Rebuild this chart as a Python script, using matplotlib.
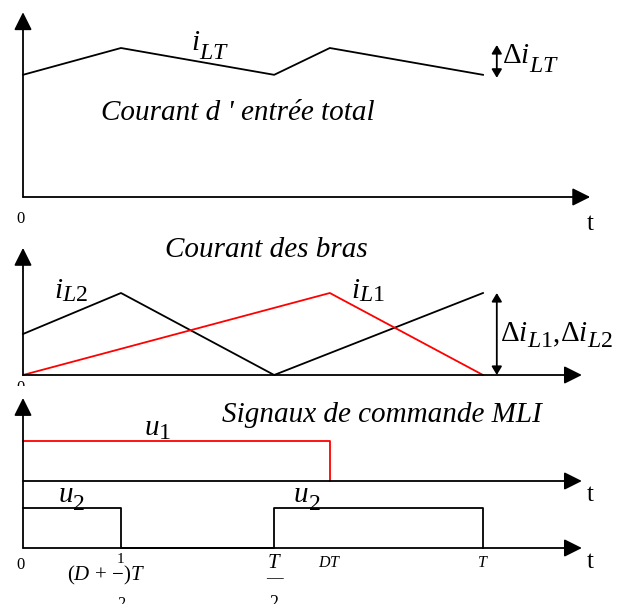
import matplotlib
matplotlib.use("Agg")
import matplotlib.pyplot as plt

plt.rcParams['font.family'] = ['Liberation Serif', 'DejaVu Serif']
plt.rcParams['mathtext.fontset'] = 'custom'
plt.rcParams['mathtext.rm'] = 'Liberation Serif'
plt.rcParams['mathtext.it'] = 'Liberation Serif:italic'
plt.rcParams['mathtext.bf'] = 'Liberation Serif:bold'

# ---- data (time in units of T) ----
t_iLT = [0, 0.213, 0.546, 0.667, 1.0]
i_LT = [0.82, 1.0, 0.82, 1.0, 0.82]

t_iL2 = [0, 0.213, 0.546, 1.0]
i_L2 = [0.5, 1.0, 0.0, 1.0]
t_iL1 = [0, 0.667, 1.0]
i_L1 = [0.0, 1.0, 0.0]

t_u1 = [0, 0.667, 0.667]
u1 = [1, 1, 0]
t_u2 = [0, 0.213, 0.213, 0.546, 0.546, 1.0, 1.0]
u2 = [1, 1, 0, 0, 1, 1, 0]

tick_pos = [0.0, 0.213, 0.546, 0.667, 1.0]

W, H = 629, 604
fig = plt.figure(figsize=(W / 100, H / 100), dpi=100)

X0, XT = 23, 460  # origin px, px per T
xlim = (-X0 / XT, (W - X0) / XT)


def panel(top, bot, base, ppu):
    ax = fig.add_axes([0, 1 - bot / H, 1, (bot - top) / H])
    ax.set_xlim(*xlim)
    ax.set_ylim(-(bot - base) / ppu, (base - top) / ppu)
    ax.axis('off')
    return ax


LW = 1.3
RED = '#ff0000'


def axis_arrow(ax, x0, y0, x1, y1):
    ax.annotate('', xy=(x1, y1), xytext=(x0, y0),
                arrowprops=dict(arrowstyle='-|>,head_length=0.54,head_width=0.27',
                                color='black', lw=LW,
                                mutation_scale=20, shrinkA=0, shrinkB=0),
                annotation_clip=False)


def dbl_arrow(ax, x, y0, y1):
    ax.annotate('', xy=(x, y1), xytext=(x, y0),
                arrowprops=dict(arrowstyle='<|-|>,head_length=0.5,head_width=0.3',
                                color='black', lw=LW,
                                mutation_scale=10, shrinkA=0, shrinkB=0),
                annotation_clip=False)


FS = 21    # titles
MFS = 21   # math labels
SUB = 0.82


def sub_label(ax, x, y, parts, drop, fs=MFS):
    """parts: list of (text, is_subscript); baseline at data y, drop in points."""
    t0 = ax.text(x, y, parts[0][0], fontsize=fs, va='baseline', ha='left')
    prev = t0
    for txt, is_sub in parts[1:]:
        t = ax.annotate(txt, xy=(1, y), xycoords=(prev, 'data'),
                        xytext=(-0.8 if is_sub else 0.0, -drop if is_sub else 0),
                        textcoords='offset points',
                        fontsize=fs * SUB if is_sub else fs,
                        va='baseline', ha='left', annotation_clip=False)
        prev = t
    return t0


# ---- panel 1: total input current ----
ax1 = panel(0, 230, 197, 149)
axis_arrow(ax1, 0, 0, 1.233, 0)
axis_arrow(ax1, 0, 0, 0, 1.24)
ax1.plot(t_iLT, i_LT, color='black', lw=LW)
dbl_arrow(ax1, 1.03, min(i_LT) - 0.02, max(i_LT) + 0.02)
sub_label(ax1, 0.365, 0.985, [(r'$i$', False), (r'$LT$', True)], drop=6.5)
sub_label(ax1, 1.041, 0.9, [(r'$\Delta i$', False), (r'$LT$', True)], drop=6.5)
ax1.text(0.467, 0.52, "Courant d ' entrée total", fontsize=FS, style='italic',
         ha='center', va='baseline')
ax1.text(-0.005, -0.175, '0', fontsize=12, ha='center', va='baseline')
ax1.text(1.233, -0.22, 't', fontsize=18, ha='center', va='baseline')

# ---- panel 2: arm currents ----
ax2 = panel(230, 386, 375, 82)
axis_arrow(ax2, 0, 0, 1.215, 0)
axis_arrow(ax2, 0, 0, 0, 1.55)
ax2.plot(t_iL2, i_L2, color='black', lw=LW)
ax2.plot(t_iL1, i_L1, color=RED, lw=LW)
dbl_arrow(ax2, 1.03, 0, 1.0)
ax2.text(0.528, 1.44, 'Courant des bras', fontsize=FS, style='italic',
         ha='center', va='baseline')
sub_label(ax2, 0.068, 0.94, [(r'$i$', False), (r'$L2$', True)], drop=2.0)
sub_label(ax2, 0.713, 0.94, [(r'$i$', False), (r'$L1$', True)], drop=2.0)
sub_label(ax2, 1.037, 0.41, [(r'$\Delta i$', False), (r'$L1$', True),
                             (',', False), (r'$\Delta i$', False),
                             (r'$L2$', True)], drop=4.0)
ax2.text(-0.005, -0.06, '0', fontsize=12, ha='center', va='top', clip_on=True)

# ---- panel 3: PWM control signals ----
ax3 = panel(386, 604, 548, 40)
U1_OFF = 1.675
axis_arrow(ax3, 0, 0, 1.215, 0)
axis_arrow(ax3, 0, U1_OFF, 1.215, U1_OFF)
axis_arrow(ax3, 0, 0, 0, 3.75)
ax3.plot(t_u1, [v + U1_OFF for v in u1], color=RED, lw=LW)
ax3.plot(t_u2, u2, color='black', lw=LW)
ax3.text(0.78, 3.15, 'Signaux de commande MLI', fontsize=FS, style='italic',
         ha='center', va='baseline')
sub_label(ax3, 0.262, 2.83, [(r'$u$', False), (r'$1$', True)], drop=3.0)
sub_label(ax3, 0.076, 1.15, [(r'$u$', False), (r'$2$', True)], drop=5.5)
sub_label(ax3, 0.588, 1.15, [(r'$u$', False), (r'$2$', True)], drop=5.5)
ax3.text(1.233, 1.175, 't', fontsize=18, ha='center', va='baseline')
ax3.text(1.233, -0.5, 't', fontsize=18, ha='center', va='baseline')

# tick labels
ax3.text(tick_pos[0] - 0.005, -0.52, '0', fontsize=12, ha='center', va='baseline')
ax3.text(tick_pos[1], -0.375, '1', fontsize=11, ha='center', va='baseline')
ax3.text(tick_pos[1] - 0.033, -0.8, r'$(D\,+\,{-})T$', fontsize=15,
         ha='center', va='baseline')
ax3.text(tick_pos[1], -1.5, '2', fontsize=12, ha='center', va='baseline')
ax3.text(tick_pos[2], -0.5, r'$T$', fontsize=15, ha='center', va='baseline')
ax3.text(tick_pos[2], -0.75, '—', fontsize=12, ha='center', va='center')
ax3.text(tick_pos[2], -1.5, '2', fontsize=13, ha='center', va='baseline')
ax3.text(tick_pos[3], -0.47, r'$DT$', fontsize=11.5, ha='center', va='baseline')
ax3.text(tick_pos[4], -0.47, r'$T$', fontsize=11.5, ha='center', va='baseline')

fig.savefig('out.png', dpi=100)
